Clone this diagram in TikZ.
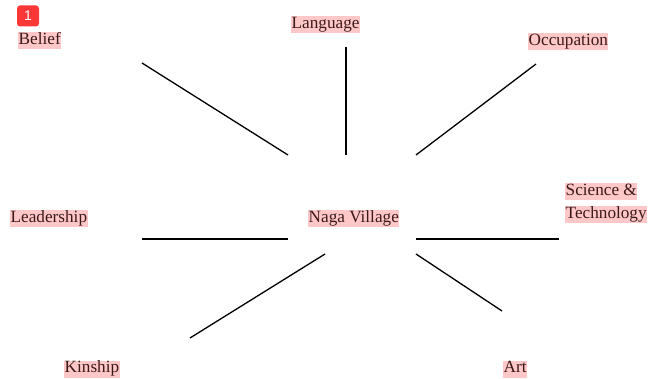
\documentclass[tikz,border=0pt]{standalone}
\usepackage{fontspec}
\setmainfont{Liberation Serif}
\newfontfamily\badgefont{Liberation Sans}
\usepackage{tikz}
\definecolor{hlpink}{RGB}{255,200,200}
\definecolor{labeltext}{RGB}{60,25,25}
\definecolor{badgered}{RGB}{250,55,55}
\tikzset{
  topic/.style={anchor=base west, fill=hlpink, text=labeltext, inner xsep=0.5pt, inner ysep=0pt,
    text height=12.5pt, text depth=4.5pt, font=\fontsize{17.2}{20}\selectfont},
  spoke/.style={line width=1.3pt, line cap=butt}
}

\begin{document}
\begin{tikzpicture}[x=1pt, y=-1pt]
\useasboundingbox (0,0) rectangle (648,379);
% badge
\node[fill=badgered, rounded corners=3pt, minimum width=22pt, minimum height=21pt, text=white,
  font=\badgefont\fontsize{14}{14}\selectfont] (badge) at (28,16) {1};
% labels
\node[topic] (belief) at (18,45) {Belief};
\node[topic] (language) at (291,29) {Language};
\node[topic] (occupation) at (528,46) {Occupation};
\node[topic] (leadership) at (10,223) {Leadership};
\node[topic] (village) at (308,223) {Naga Village};
\node[topic] (science) at (565,196) {Science \&};
\node[topic] (technology) at (565,219) {Technology};
\node[topic] (kinship) at (64,373) {Kinship};
\node[topic] (art) at (503,373) {Art};
% spoke ends
\coordinate (belief-out) at (142,63);   \coordinate (belief-in) at (288,155);
\coordinate (language-out) at (346,47); \coordinate (language-in) at (346,155);
\coordinate (occupation-out) at (536,64); \coordinate (occupation-in) at (416,155);
\coordinate (leadership-out) at (142,239); \coordinate (leadership-in) at (288,239);
\coordinate (science-out) at (559,239); \coordinate (science-in) at (416,239);
\coordinate (kinship-out) at (190,338); \coordinate (kinship-in) at (325,254);
\coordinate (art-out) at (502,311);     \coordinate (art-in) at (416,254);
\foreach \t in {belief, language, occupation, leadership, science, kinship, art}
    \draw[spoke] (\t-out) -- (\t-in);
\end{tikzpicture}
\end{document}
